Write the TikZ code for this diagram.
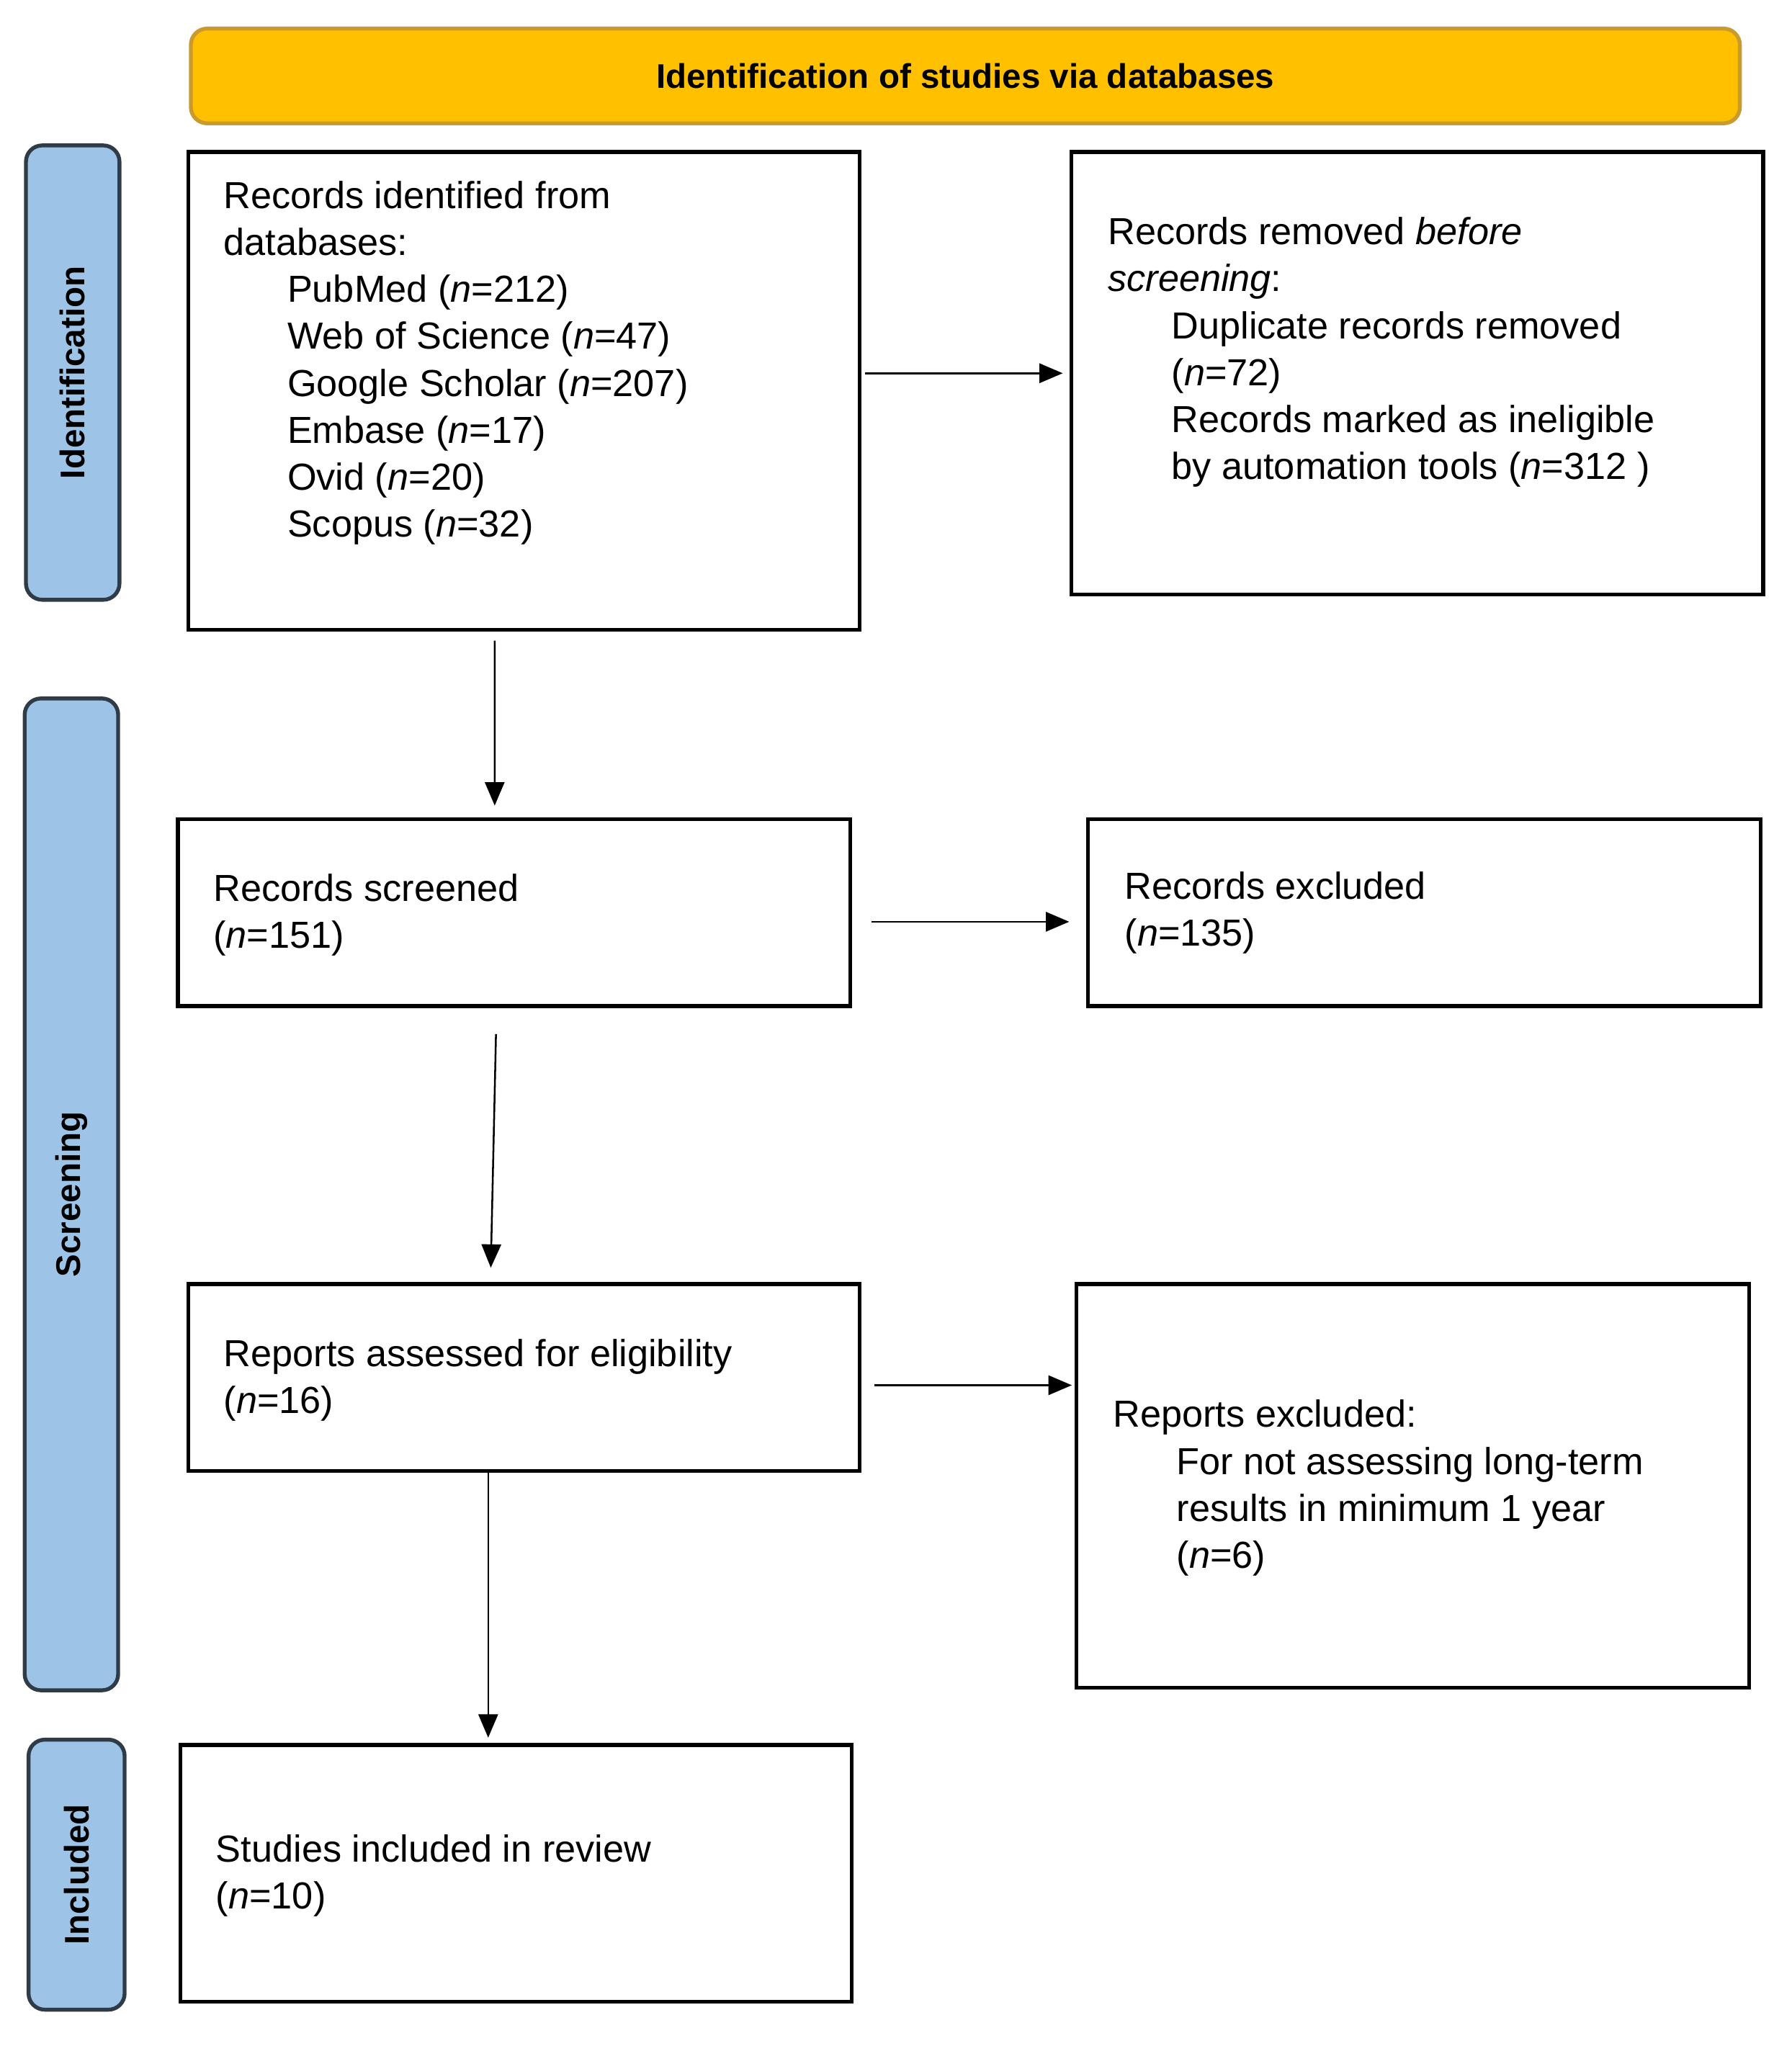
\documentclass[tikz,border=0pt]{standalone}
\usepackage{fontspec}
\setmainfont{Liberation Sans}
\usetikzlibrary{arrows.meta,positioning}
\definecolor{bannerfill}{HTML}{FFC000}
\definecolor{bannerline}{HTML}{C99A2E}
\definecolor{sidefill}{HTML}{9DC3E6}
\definecolor{sideline}{HTML}{2F3B46}
\tikzset{box/.style={draw,line width=1.7pt,minimum width=10.34cm,inner sep=0pt},
  txt/.style={anchor=north west,align=left,inner sep=0pt,font=\fontsize{16.5}{20.6}\selectfont},
  side/.style={draw=sideline,fill=sidefill,line width=1.7pt,rounded corners=0.25cm,rotate=90,
    minimum height=1.44cm,font=\bfseries\fontsize{15}{18}\selectfont},
  arr/.style={line width=0.8pt,-{Triangle[length=0.36cm,width=0.3cm]}}}
\newcommand{\ind}{\hspace*{0.98cm}}
\begin{document}
\begin{tikzpicture}
\useasboundingbox (0,0) rectangle (27.6,-31.52);
% banner and phases
\node (top) [draw=bannerline,fill=bannerfill,line width=1.7pt,rounded corners=0.25cm,minimum width=23.86cm,minimum height=1.46cm,font=\bfseries\fontsize{15}{18}\selectfont] at (14.87,-1.17) {Identification of studies via databases};
\node (ident) [side,minimum width=7.0cm] at (1.12,-5.74) {Identification};
\node (scr) [side,minimum width=15.28cm] at (1.1,-18.4) {Screening};
\node (incl) [side,minimum width=4.16cm,minimum height=1.48cm] at (1.18,-28.88) {Included};
% boxes
\node (b1) [box,minimum height=7.36cm] at (8.07,-6.02) {};
\node (b2) [box,minimum width=10.66cm,minimum height=6.82cm] at (21.83,-5.75) {};
\node (b3) [box,minimum width=10.36cm,minimum height=2.88cm] at (7.92,-14.06) {};
\node (b4) [box,minimum width=10.36cm,minimum height=2.88cm] at (21.94,-14.06) {};
\node (b5) [box,minimum height=2.88cm] at (8.07,-21.22) {};
\node (b6) [box,minimum width=10.36cm,minimum height=6.22cm] at (21.76,-22.89) {};
\node (b7) [box,minimum height=3.96cm] at (7.95,-28.86) {};
% texts
\node (t1) [txt] at (3.44,-2.78) {Records identified from\\databases:\\\ind PubMed (\textit{n}=212)\\\ind Web of Science (\textit{n}=47)\\\ind Google Scholar (\textit{n}=207)\\\ind Embase (\textit{n}=17)\\\ind Ovid (\textit{n}=20)\\\ind Scopus (\textit{n}=32)};
\node (t2) [txt] at (17.06,-3.34) {Records removed \textit{before}\\\textit{screening}:\\\ind Duplicate records removed\\\ind (\textit{n}=72)\\\ind Records marked as ineligible\\\ind by automation tools (\textit{n}=312 )};
\node (t3) [txt] at (3.28,-13.46) {Records screened\\(\textit{n}=151)};
\node (t4) [txt] at (17.32,-13.42) {Records excluded\\(\textit{n}=135)};
\node (t5) [txt] at (3.44,-20.62) {Reports assessed for eligibility\\(\textit{n}=16)};
\node (t6) [txt] at (17.14,-21.56) {Reports excluded:\\\ind For not assessing long-term\\\ind results in minimum 1 year\\\ind (\textit{n}=6)};
\node (t7) [txt] at (3.32,-28.26) {Studies included in review\\(\textit{n}=10)};
% connectors
\draw[arr,shorten <=0.06cm,shorten >=0.1cm] (b1.east |- b2.west) -- (b2.west);
\draw[arr] ([xshift=-0.45cm,yshift=-0.14cm]b1.south) -- ([xshift=-0.3cm,yshift=0.18cm]b3.north);
\draw[arr,shorten <=0.3cm,shorten >=0.26cm] ([yshift=-0.14cm]b3.east) -- ([yshift=-0.14cm]b4.west);
\draw[arr] ([xshift=-0.28cm,yshift=-0.4cm]b3.south) -- ([xshift=-0.51cm,yshift=0.22cm]b5.north);
\draw[arr,shorten <=0.2cm,shorten >=0.04cm] ([yshift=-0.12cm]b5.east) -- ([yshift=-0.12cm]b5.east -| b6.west);
\draw[arr] ([xshift=-0.55cm]b5.south) -- ([xshift=-0.43cm,yshift=0.08cm]b7.north);
\end{tikzpicture}
\end{document}
